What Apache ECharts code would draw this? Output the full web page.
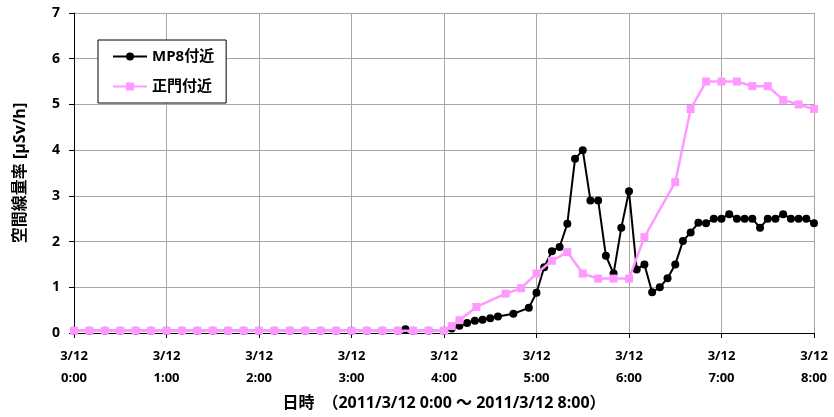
<!DOCTYPE html>
<html>
<head>
<meta charset="utf-8">
<script src="https://cdn.jsdelivr.net/npm/echarts@6/dist/echarts.min.js"></script>
<style>html,body{margin:0;padding:0;background:#fff}#c{width:834px;height:417px}</style>
</head>
<body>
<div id="c"></div>
<script>
// MP8付近 (black)
var mp8Times = ['0:00','0:10','0:20','0:30','0:40','0:50','1:00','1:10','1:20','1:30','1:40','1:50','2:00','2:10','2:20','2:30','2:40','2:50','3:00','3:10','3:20','3:30','3:35','3:40','3:50','4:00','4:05','4:10','4:15','4:20','4:25','4:30','4:35','4:45','4:55','5:00','5:05','5:10','5:15','5:20','5:25','5:30','5:35','5:40','5:45','5:50','5:55','6:00','6:05','6:10','6:15','6:20','6:25','6:30','6:35','6:40','6:45','6:50','6:55','7:00','7:05','7:10','7:15','7:20','7:25','7:30','7:35','7:40','7:45','7:50','7:55','8:00'];
var mp8Values = [0.05,0.05,0.05,0.05,0.05,0.05,0.05,0.05,0.05,0.05,0.05,0.05,0.05,0.05,0.05,0.05,0.05,0.05,0.05,0.05,0.05,0.05,0.08,0.05,0.05,0.05,0.1,0.16,0.22,0.27,0.29,0.32,0.36,0.42,0.55,0.88,1.44,1.79,1.88,2.39,3.81,4.0,2.9,2.9,1.69,1.3,2.3,3.1,1.39,1.5,0.89,1.0,1.2,1.5,2.01,2.2,2.41,2.4,2.5,2.5,2.6,2.5,2.5,2.5,2.3,2.5,2.5,2.6,2.5,2.5,2.5,2.4];
// 正門付近 (pink)
var gateTimes = ['0:00','0:10','0:20','0:30','0:40','0:50','1:00','1:10','1:20','1:30','1:40','1:50','2:00','2:10','2:20','2:30','2:40','2:50','3:00','3:10','3:20','3:30','3:40','3:50','4:00','4:05','4:10','4:21','4:40','4:50','5:00','5:10','5:20','5:30','5:40','5:50','6:00','6:10','6:30','6:40','6:50','7:00','7:10','7:20','7:30','7:40','7:50','8:00'];
var gateValues = [0.05,0.05,0.05,0.05,0.05,0.05,0.05,0.05,0.05,0.05,0.05,0.05,0.05,0.05,0.05,0.05,0.05,0.05,0.05,0.05,0.05,0.05,0.05,0.05,0.05,0.15,0.28,0.57,0.86,0.98,1.3,1.58,1.77,1.3,1.19,1.19,1.19,2.1,3.3,4.9,5.5,5.5,5.5,5.4,5.4,5.1,5.0,4.9];
var xTickLabels = ['3/12\n0:00','3/12\n1:00','3/12\n2:00','3/12\n3:00','3/12\n4:00','3/12\n5:00','3/12\n6:00','3/12\n7:00','3/12\n8:00'];
var yTickLabels = ['0','1','2','3','4','5','6','7'];
var seriesNames = ['MP8付近','正門付近'];
var xAxisTitle = '日時　（2011/3/12 0:00 ～ 2011/3/12 8:00）';
var yAxisTitle = '空間線量率 [μSv/h]';

function toMin(t){var p=t.split(':');return (+p[0])*60+(+p[1]);}
function pairs(ts,vs){return ts.map(function(t,i){return [toMin(t),vs[i]];});}

var FONT = '"Open Sans","Noto Sans CJK JP",sans-serif';
var chart = echarts.init(document.getElementById('c'));
chart.setOption({
  animation:false,
  backgroundColor:'#fff',
  textStyle:{fontFamily:FONT},
  grid:{left:74,right:20,top:13,bottom:84,containLabel:false},
  legend:{
    orient:'vertical',left:98,top:40,
    width:128,
    padding:[9,12,9,14],
    itemGap:15,
    itemWidth:34,itemHeight:10,
    borderColor:'#000',borderWidth:1,backgroundColor:'#fff',
    textStyle:{fontFamily:FONT,fontWeight:'bold',fontSize:15,color:'#000'},
    data:seriesNames
  },
  xAxis:{
    type:'value',min:0,max:480,interval:60,
    name:xAxisTitle,nameLocation:'middle',nameGap:62,
    nameTextStyle:{fontFamily:FONT,fontWeight:'bold',fontSize:16,color:'#000'},
    axisLine:{onZero:false,lineStyle:{color:'#000',width:1}},
    axisTick:{show:true,length:5,lineStyle:{color:'#000'}},
    axisLabel:{
      margin:12,fontFamily:FONT,fontWeight:'bold',fontSize:13,color:'#000',lineHeight:22,
      formatter:function(v){return xTickLabels[Math.round(v/60)];}
    },
    splitLine:{show:true,lineStyle:{color:'#a6a6a6',width:1}}
  },
  yAxis:{
    type:'value',min:0,max:7,interval:1,
    name:yAxisTitle,nameLocation:'middle',nameGap:46,nameRotate:90,
    nameTextStyle:{fontFamily:FONT,fontWeight:'bold',fontSize:16,color:'#000'},
    axisLine:{show:true,lineStyle:{color:'#000',width:1}},
    axisTick:{show:true,length:5,lineStyle:{color:'#000'}},
    axisLabel:{margin:14,fontFamily:FONT,fontWeight:'bold',fontSize:14,color:'#000',
      formatter:function(v){return yTickLabels[Math.round(v)];}},
    splitLine:{show:true,lineStyle:{color:'#a6a6a6',width:1}}
  },
  series:[
    {name:seriesNames[0],type:'line',data:pairs(mp8Times,mp8Values),
     symbol:'circle',symbolSize:8,showAllSymbol:true,
     lineStyle:{color:'#000',width:2},itemStyle:{color:'#000'},z:2},
    {name:seriesNames[1],type:'line',data:pairs(gateTimes,gateValues),
     symbol:'rect',symbolSize:8,showAllSymbol:true,
     lineStyle:{color:'#ff99ff',width:2.5},itemStyle:{color:'#ff99ff'},z:3}
  ]
});
</script>
</body>
</html>
